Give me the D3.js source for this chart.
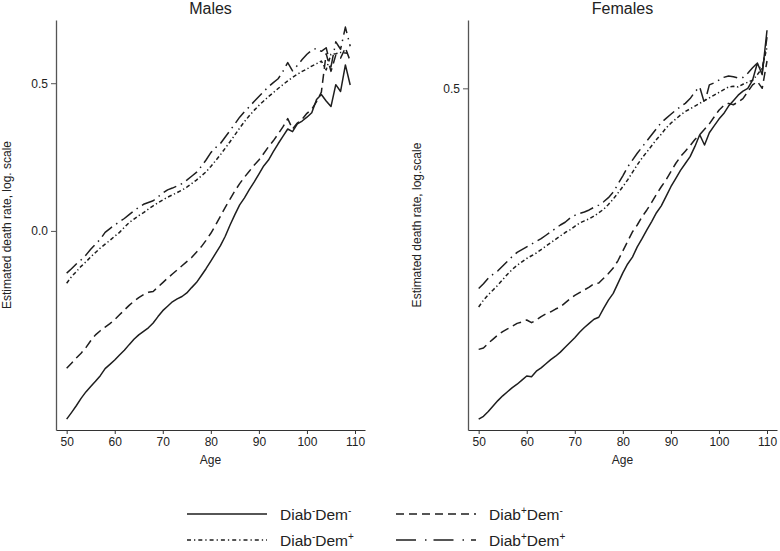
<!DOCTYPE html>
<html><head><meta charset="utf-8">
<script src="https://cdn.jsdelivr.net/npm/d3@7"></script>
<style>
body{margin:0;background:#fff;}
text{font-family:"Liberation Sans",Arial,sans-serif;fill:#222;}
</style></head>
<body><svg id="c" width="780" height="551"></svg>
<script>
// ---------- DATA ----------
const agesMale = [50,51,52,53,54,55,56,57,58,59,60,61,62,63,64,65,66,67,68,69,70,71,72,73,74,75,76,77,78,79,80,81,82,83,84,85,86,87,88,89,90,91,92,93,94,95,96,97,98,99,100,101,102,103,104,105,106,107,108,109];
const agesFemale = [50,51,52,53,54,55,56,57,58,59,60,61,62,63,64,65,66,67,68,69,70,71,72,73,74,75,76,77,78,79,80,81,82,83,84,85,86,87,88,89,90,91,92,93,94,95,96,97,98,99,100,101,102,103,104,105,106,107,108,109,110];

// Males (log-scale values)
const maleDiabNegDemNeg = [-0.637,-0.615,-0.592,-0.567,-0.545,-0.527,-0.509,-0.490,-0.466,-0.452,-0.437,-0.420,-0.404,-0.385,-0.367,-0.352,-0.340,-0.328,-0.312,-0.290,-0.270,-0.255,-0.240,-0.230,-0.222,-0.210,-0.192,-0.175,-0.152,-0.128,-0.102,-0.076,-0.050,-0.018,0.020,0.055,0.088,0.112,0.140,0.165,0.192,0.220,0.240,0.268,0.295,0.320,0.345,0.336,0.362,0.372,0.385,0.400,0.445,0.462,0.440,0.421,0.495,0.472,0.562,0.494];
const maleDiabPosDemNeg = [-0.465,-0.448,-0.430,-0.414,-0.395,-0.372,-0.352,-0.338,-0.326,-0.314,-0.300,-0.284,-0.268,-0.252,-0.238,-0.226,-0.216,-0.208,-0.205,-0.190,-0.175,-0.160,-0.146,-0.132,-0.118,-0.104,-0.090,-0.072,-0.054,-0.032,-0.008,0.020,0.050,0.080,0.108,0.135,0.160,0.182,0.202,0.222,0.240,0.262,0.285,0.305,0.328,0.352,0.380,0.345,0.365,0.378,0.398,0.412,0.438,0.470,0.600,0.540,0.595,0.585,0.620,0.575];
const maleDiabNegDemPos = [-0.177,-0.155,-0.138,-0.120,-0.105,-0.088,-0.073,-0.058,-0.045,-0.032,-0.018,-0.005,0.012,0.028,0.040,0.052,0.062,0.074,0.085,0.095,0.105,0.114,0.122,0.130,0.138,0.148,0.160,0.172,0.186,0.200,0.218,0.238,0.258,0.280,0.302,0.325,0.348,0.370,0.390,0.408,0.425,0.440,0.455,0.468,0.482,0.495,0.508,0.520,0.530,0.540,0.548,0.558,0.566,0.575,0.545,0.598,0.600,0.604,0.602,0.600];
const maleDiabPosDemPos = [-0.143,-0.128,-0.112,-0.098,-0.082,-0.062,-0.045,-0.028,-0.005,0.008,0.020,0.031,0.042,0.055,0.068,0.080,0.090,0.096,0.102,0.115,0.128,0.139,0.145,0.152,0.160,0.172,0.185,0.198,0.218,0.240,0.265,0.282,0.296,0.318,0.340,0.362,0.385,0.404,0.420,0.438,0.455,0.472,0.488,0.502,0.515,0.540,0.570,0.542,0.560,0.580,0.598,0.612,0.618,0.608,0.620,0.555,0.640,0.615,0.690,0.625];

// Females (log-scale values)
const femaleDiabNegDemNeg = [0.016,0.020,0.027,0.035,0.043,0.050,0.056,0.062,0.067,0.073,0.079,0.078,0.086,0.091,0.097,0.103,0.108,0.114,0.121,0.128,0.135,0.143,0.150,0.156,0.162,0.165,0.178,0.190,0.200,0.215,0.230,0.243,0.253,0.268,0.280,0.293,0.305,0.318,0.328,0.342,0.356,0.368,0.380,0.390,0.400,0.415,0.432,0.417,0.435,0.445,0.455,0.463,0.474,0.482,0.490,0.496,0.500,0.512,0.537,0.520,0.585];
const femaleDiabPosDemNeg = [0.118,0.120,0.127,0.133,0.139,0.144,0.148,0.152,0.156,0.158,0.161,0.157,0.161,0.166,0.170,0.173,0.177,0.180,0.186,0.192,0.197,0.201,0.205,0.209,0.214,0.215,0.222,0.229,0.237,0.248,0.262,0.276,0.290,0.300,0.312,0.322,0.333,0.345,0.356,0.366,0.378,0.390,0.400,0.408,0.416,0.425,0.432,0.440,0.448,0.458,0.468,0.475,0.478,0.476,0.480,0.485,0.495,0.505,0.510,0.500,0.540];
const femaleDiabNegDemPos = [0.180,0.190,0.198,0.205,0.212,0.220,0.228,0.235,0.241,0.246,0.251,0.255,0.259,0.264,0.269,0.274,0.279,0.284,0.289,0.293,0.298,0.303,0.306,0.309,0.313,0.318,0.323,0.330,0.338,0.347,0.356,0.366,0.377,0.388,0.398,0.407,0.416,0.425,0.433,0.442,0.449,0.455,0.461,0.466,0.470,0.474,0.478,0.482,0.486,0.490,0.494,0.498,0.502,0.503,0.502,0.506,0.509,0.512,0.520,0.530,0.560];
const femaleDiabPosDemPos = [0.207,0.214,0.222,0.228,0.233,0.240,0.247,0.254,0.260,0.264,0.268,0.272,0.276,0.280,0.285,0.290,0.295,0.300,0.304,0.310,0.314,0.317,0.319,0.322,0.326,0.329,0.334,0.340,0.348,0.360,0.372,0.385,0.395,0.405,0.414,0.423,0.432,0.441,0.450,0.456,0.462,0.468,0.473,0.478,0.485,0.495,0.502,0.478,0.505,0.508,0.512,0.516,0.518,0.517,0.515,0.516,0.522,0.530,0.537,0.524,0.575];

const xTicks = [50,60,70,80,90,100,110];
const maleYTicks = [0.0,0.5];
const femaleYTicks = [0.5];
const panelTitles = ["Males","Females"];
const yLabels = ["Estimated death rate, log. scale","Estimated death rate, log.scale"];
const xLabel = "Age";
const seriesKeys = ["DiabNegDemNeg","DiabPosDemNeg","DiabNegDemPos","DiabPosDemPos"];
const legendParts = [["-","-"],["+","-"],["-","+"],["+","+"]];

// ---------- STYLE ----------
const dashes = {
  DiabNegDemNeg: null,
  DiabPosDemNeg: "9,5",
  DiabNegDemPos: "4,2.5,1.3,2.5",
  DiabPosDemPos: "14,5,1.5,5"
};
const legendDashes = {
  DiabNegDemNeg: null,
  DiabPosDemNeg: "8,5",
  DiabNegDemPos: "4,3,1.3,3",
  DiabPosDemPos: "20,9,1.5,7"
};
const lineColor = "#1e1e1e";

const svg = d3.select("#c");

const panels = [
  {title: panelTitles[0], ylab: yLabels[0], ages: agesMale,
   series: [maleDiabNegDemNeg, maleDiabPosDemNeg, maleDiabNegDemPos, maleDiabPosDemPos],
   x: d3.scaleLinear().domain([47.78,112.08]).range([56,365]),
   y: d3.scaleLinear().domain([-0.674,0.714]).range([430,20]),
   yticks: maleYTicks, ylabX: 8},
  {title: panelTitles[1], ylab: yLabels[1], ages: agesFemale,
   series: [femaleDiabNegDemNeg, femaleDiabPosDemNeg, femaleDiabNegDemPos, femaleDiabPosDemPos],
   x: d3.scaleLinear().domain([47.78,112.08]).range([468,777]),
   y: d3.scaleLinear().domain([0,0.6]).range([430,20]),
   yticks: femaleYTicks, ylabX: 418}
];

panels.forEach(p => {
  const g = svg.append("g");
  const [x0,x1] = p.x.range();
  const yBottom = p.y.range()[0];

  // x axis
  const xa = g.append("g").attr("transform",`translate(0,${yBottom})`)
    .call(d3.axisBottom(p.x).tickValues(xTicks).tickSizeInner(4).tickSizeOuter(0).tickPadding(3));
  xa.select(".domain").attr("stroke","#333").attr("stroke-width",1.2);
  xa.selectAll(".tick line").attr("stroke","#333");
  xa.selectAll("text").attr("font-size",12).attr("fill","#222")
    .style("font-family",'"Liberation Sans",Arial,sans-serif');

  // y axis
  const ya = g.append("g").attr("transform",`translate(${x0},0)`)
    .call(d3.axisLeft(p.y).tickValues(p.yticks).tickFormat(d3.format(".1f")).tickSizeInner(5).tickSizeOuter(0).tickPadding(3));
  ya.select(".domain").attr("stroke","#555").attr("stroke-width",1.3);
  ya.selectAll(".tick line").attr("stroke","#555");
  ya.selectAll("text").attr("font-size",12).attr("fill","#222")
    .style("font-family",'"Liberation Sans",Arial,sans-serif');

  // titles and labels
  g.append("text").attr("x",(x0+x1)/2).attr("y",14).attr("text-anchor","middle")
    .attr("font-size",16).text(p.title);
  g.append("text").attr("x",(x0+x1)/2).attr("y",464).attr("text-anchor","middle")
    .attr("font-size",12).text(xLabel);
  g.append("text").attr("transform",`translate(${p.ylabX},225) rotate(-90)`)
    .attr("text-anchor","middle").attr("dominant-baseline","middle")
    .attr("font-size",12).text(p.ylab);

  // lines
  const line = d3.line().x((d,i)=>p.x(p.ages[i])).y(d=>p.y(d));
  p.series.forEach((s,k) => {
    const dash = dashes[seriesKeys[k]];
    const path = g.append("path").datum(s).attr("d",line)
      .attr("fill","none").attr("stroke",lineColor).attr("stroke-width",1.5)
      .attr("stroke-linejoin","round");
    if (dash) path.attr("stroke-dasharray",dash);
  });
});

// ---------- LEGEND ----------
const legPos = [[187,514],[396,514],[187,540],[396,540]];
seriesKeys.forEach((k,i) => {
  const [lx,ly] = legPos[i];
  const l = svg.append("line").attr("x1",lx).attr("x2",lx+80).attr("y1",ly).attr("y2",ly)
    .attr("stroke",lineColor).attr("stroke-width",1.5);
  if (legendDashes[k]) l.attr("stroke-dasharray", legendDashes[k]);
  const t = svg.append("text").attr("x",lx+93).attr("y",ly+6).attr("font-size",15.5);
  t.append("tspan").text("Diab");
  t.append("tspan").attr("dy",-6).attr("font-size",10).text(legendParts[i][0]);
  t.append("tspan").attr("dy",6).text("Dem");
  t.append("tspan").attr("dy",-6).attr("font-size",10).text(legendParts[i][1]);
});
</script></body></html>
